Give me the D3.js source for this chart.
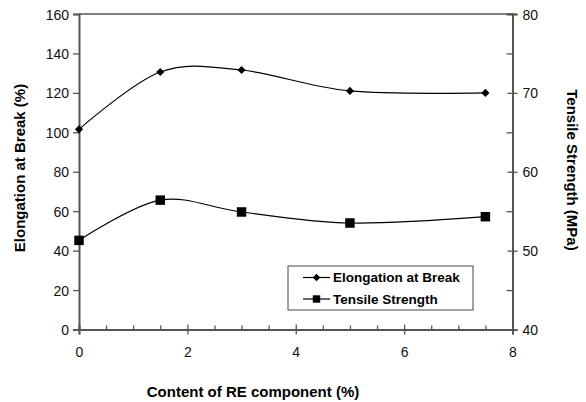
<!DOCTYPE html>
<html>
<head>
<meta charset="utf-8">
<script src="https://cdn.jsdelivr.net/npm/d3@7"></script>
<style>
  html, body { margin: 0; padding: 0; background: #fff; }
  svg { display: block; font-family: "Liberation Sans", Arial, sans-serif; }
</style>
</head>
<body>
<svg id="chart" width="586" height="402"></svg>
<script>
// RE content (%) on the x axis
const content = [0, 1.5, 3, 5, 7.5];
// Elongation at break (%), left axis
const elongation = [101.5, 130.6, 131.6, 121, 120];
// Tensile strength (MPa), right axis
const tensile = [51.3, 56.4, 54.9, 53.5, 54.3];

const xTicks = [0, 2, 4, 6, 8];
const leftTicks = [0, 20, 40, 60, 80, 100, 120, 140, 160];
const rightTicks = [40, 50, 60, 70, 80];

const seriesNames = ["Elongation at Break", "Tensile Strength"];

const svg = d3.select("#chart");
const L = 79, R = 512.5, T = 14, B = 329.5;
const axisColor = "#555";

const x = d3.scaleLinear().domain([0, 8]).range([L, R]);
const yL = d3.scaleLinear().domain([0, 160]).range([B, T]);
const yR = d3.scaleLinear().domain([40, 80]).range([B, T]);

// top frame line
svg.append("line").attr("x1", L).attr("x2", R).attr("y1", T).attr("y2", T)
  .attr("stroke", "#000").attr("stroke-width", 1.2);

// left axis
const gL = svg.append("g").attr("transform", `translate(${L},0)`)
  .call(d3.axisLeft(yL).tickValues(leftTicks).tickSize(6).tickPadding(4));
// right axis (major ticks) + minor ticks
const gRmin = svg.append("g").attr("transform", `translate(${R},0)`)
  .call(d3.axisRight(yR).tickValues([45, 55, 65, 75]).tickSize(-6).tickFormat(""));
const gR = svg.append("g").attr("transform", `translate(${R},0)`)
  .call(d3.axisRight(yR).tickValues(rightTicks).tickSize(5).tickPadding(5));
gR.selectAll(".tick line").attr("x1", -5);
// bottom axis minor + major
const minorX = d3.range(0.5, 8, 0.5).filter(v => v % 2 !== 0);
const gBmin = svg.append("g").attr("transform", `translate(0,${B})`)
  .call(d3.axisBottom(x).tickValues(minorX).tickSize(-4).tickFormat(""));
const gB = svg.append("g").attr("transform", `translate(0,${B})`)
  .call(d3.axisBottom(x).tickValues(xTicks).tickSize(5).tickPadding(13));
gB.selectAll(".tick line").attr("y1", -5);

[gL, gR, gRmin, gB, gBmin].forEach(g => {
  g.select(".domain").attr("stroke", axisColor).attr("stroke-width", 2);
  g.selectAll(".tick line").attr("stroke", axisColor).attr("stroke-width", 1.3);
  g.selectAll(".tick text").attr("fill", "#111").style("font-size", "14px");
});
gL.selectAll(".tick text").attr("dy", "0.36em");
gR.selectAll(".tick text").attr("dy", "0.36em");

// axis titles
svg.append("text").attr("x", 253).attr("y", 397)
  .attr("text-anchor", "middle").style("font-size", "15px").style("font-weight", "bold")
  .text("Content of RE component (%)");
svg.append("text").attr("transform", `translate(20,168) rotate(-90)`)
  .attr("text-anchor", "middle").style("font-size", "15px").style("font-weight", "bold")
  .attr("dy", "0.35em")
  .text("Elongation at Break (%)");
svg.append("text").attr("transform", `translate(572,170) rotate(90)`)
  .attr("text-anchor", "middle").style("font-size", "15px").style("font-weight", "bold")
  .attr("dy", "0.35em")
  .text("Tensile Strength (MPa)");

// smoothed lines
const lineL = d3.line().x((d, i) => x(content[i])).y(d => yL(d)).curve(d3.curveCardinal.tension(0));
const lineR = d3.line().x((d, i) => x(content[i])).y(d => yR(d)).curve(d3.curveCardinal.tension(0));

svg.append("path").attr("d", lineL(elongation)).attr("fill", "none")
  .attr("stroke", "#000").attr("stroke-width", 1.2);
svg.append("path").attr("d", lineR(tensile)).attr("fill", "none")
  .attr("stroke", "#000").attr("stroke-width", 1.2);

const diamond = d3.symbol().type(d3.symbolDiamond2).size(42);
const square = d3.symbol().type(d3.symbolSquare).size(90);

svg.append("g").selectAll("path").data(elongation).join("path")
  .attr("transform", (d, i) => `translate(${x(content[i])},${yL(d)})`)
  .attr("d", diamond).attr("fill", "#000");
svg.append("g").selectAll("path").data(tensile).join("path")
  .attr("transform", (d, i) => `translate(${x(content[i])},${yR(d)})`)
  .attr("d", square).attr("fill", "#000");

// legend
const lg = svg.append("g").attr("transform", "translate(288,266)");
lg.append("rect").attr("width", 185).attr("height", 44)
  .attr("fill", "#fff").attr("stroke", "#444").attr("stroke-width", 1);
const rowY = [11.5, 33];
const legendSymbols = [
  d3.symbol().type(d3.symbolDiamond2).size(36),
  d3.symbol().type(d3.symbolSquare).size(55)
];
rowY.forEach((ry, i) => {
  lg.append("line").attr("x1", 15).attr("x2", 42).attr("y1", ry).attr("y2", ry)
    .attr("stroke", "#000").attr("stroke-width", 1.2);
  lg.append("path").attr("transform", `translate(28.5,${ry})`)
    .attr("d", legendSymbols[i]()).attr("fill", "#000");
  lg.append("text").attr("x", 45).attr("y", ry).attr("dy", "0.36em")
    .style("font-size", "13.5px").style("font-weight", "bold").text(seriesNames[i]);
});
</script>
</body>
</html>
